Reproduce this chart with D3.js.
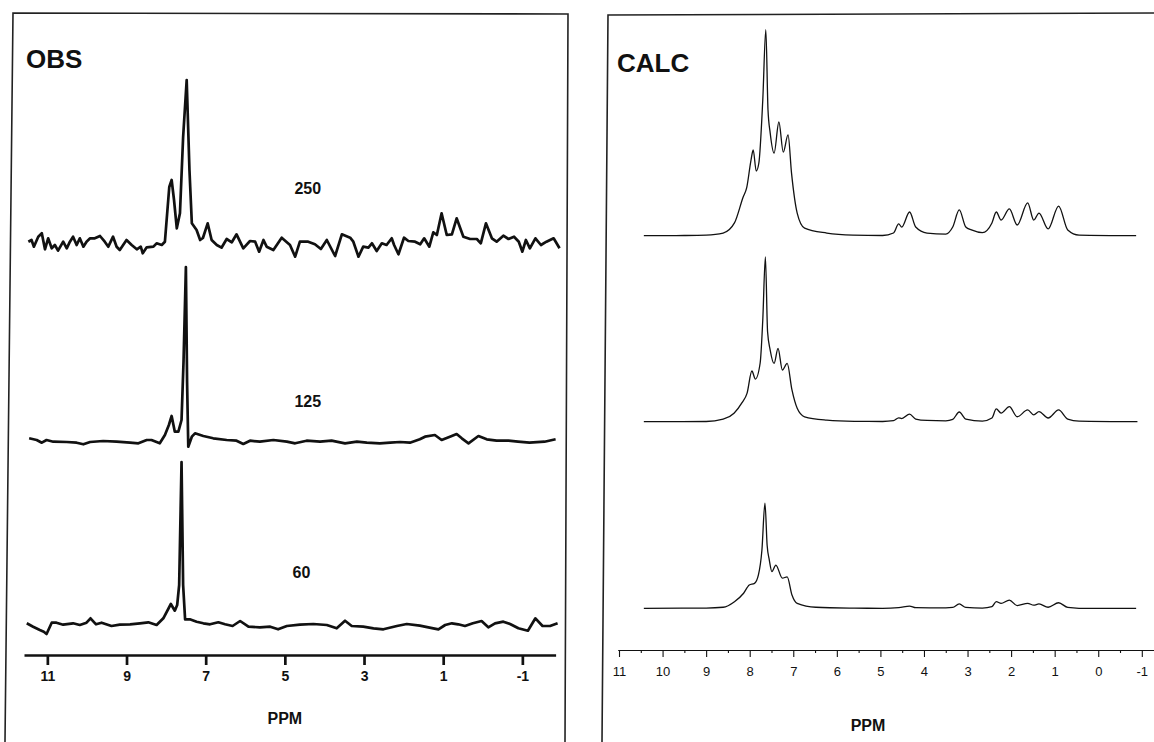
<!DOCTYPE html>
<html>
<head>
<meta charset="utf-8">
<script src="https://cdn.jsdelivr.net/npm/d3@7"></script>
<style>
  html, body { margin: 0; padding: 0; background: #fff; }
  svg { display: block; }
  text { font-family: "Liberation Sans", Arial, Helvetica, sans-serif; fill: #111; }
</style>
</head>
<body>
<svg id="chart" width="1154" height="742"></svg>
<script>
// --- data: [ppm, intensity] ---
const obs250 = [[11.48,1.3],[11.40,3],[11.34,-3.7],[11.23,6.3],[11.14,9.7],[11.06,-6.3],[10.98,4.7],[10.89,-5.3],
  [10.81,-2],[10.73,-7.7],[10.60,1.3],[10.51,-5.3],[10.43,1.3],[10.35,6.3],[10.26,-2],[10.18,4.7],[10.09,-3.7],
  [10.01,1.3],[9.92,4.7],[9.80,4.7],[9.67,7],[9.55,1.3],[9.46,-3.7],[9.34,6.3],[9.25,-3.7],[9.17,-7],[9.00,3],
  [8.87,-2],[8.74,-6.3],[8.64,-3.7],[8.59,-10.3],[8.49,-4.3],[8.32,-3.7],[8.24,-0.3],[8.11,-2],[8.03,1.3],
  [7.92,56],[7.86,63],[7.80,43],[7.73,14.7],[7.65,29.7],[7.57,106],[7.48,163],[7.41,73],[7.35,19.7],[7.23,13],
  [7.14,3],[7.07,5],[6.95,19.7],[6.85,3],[6.72,-2],[6.60,-4.7],[6.47,4],[6.34,0.7],[6.22,8.7],[6.05,-5.3],
  [5.88,2],[5.75,1.3],[5.65,-8.7],[5.54,3],[5.46,-3.7],[5.29,-7],[5.08,5.3],[4.87,-2],[4.74,-13.7],[4.62,1.3],
  [4.41,1.3],[4.24,-1.3],[4.09,-6],[3.94,3],[3.73,-13],[3.56,8.7],[3.35,5.3],[3.27,1.3],[3.14,-13.7],[3.02,-3.7],
  [2.89,-4.7],[2.80,-0.3],[2.68,-8],[2.55,-0.3],[2.43,-2],[2.30,4.7],[2.24,-2],[2.13,-11.3],[1.99,5.3],[1.88,2],
  [1.71,1.3],[1.58,-1.3],[1.48,4.7],[1.35,-3.7],[1.25,10.7],[1.16,8],[1.04,29.7],[0.91,8],[0.78,8.7],[0.66,24.7],
  [0.49,6.3],[0.32,4],[0.15,4],[0.05,-0.3],[-0.08,19.7],[-0.23,4.7],[-0.35,1.3],[-0.52,7.3],[-0.65,4],[-0.79,6.3],
  [-0.91,1.3],[-1.00,-8.7],[-1.09,3],[-1.19,-5.3],[-1.33,4.7],[-1.47,-2],[-1.61,1.3],[-1.79,4.7],[-1.94,-5.3]];

const obs125 = [[11.46,3.7],[11.27,2],[11.14,-0.7],[11.02,2],[10.85,0.3],[10.51,0],[10.26,-0.7],[10.09,-2.3],
  [9.92,0],[9.59,1],[9.25,0.3],[8.91,-0.7],[8.70,-1.3],[8.49,2],[8.37,2],[8.16,-1.3],[8.03,7],[7.93,17],[7.86,26],
  [7.78,10.3],[7.69,10.3],[7.61,22],[7.56,80],[7.50,175],[7.47,60],[7.44,-4.7],[7.35,5.3],[7.27,8.7],[7.06,6],
  [6.81,3.7],[6.47,2],[6.22,1.3],[6.05,-2],[5.88,1.3],[5.63,0.3],[5.29,2],[4.95,0.3],[4.74,-1.3],[4.45,1.3],
  [4.11,0.3],[3.82,1.3],[3.48,-1.3],[3.18,0.3],[2.93,-0.7],[2.60,-1.3],[2.34,-0.7],[2.09,0],[1.84,-0.7],
  [1.59,2.7],[1.46,5.3],[1.21,7],[1.04,2],[0.83,5.3],[0.66,8],[0.53,3.7],[0.36,-1.3],[0.11,6],[-0.10,2.7],
  [-0.35,1.3],[-0.65,1.3],[-0.89,0.3],[-1.18,-0.7],[-1.56,0.3],[-1.84,2.7]];

const obs60 = [[11.52,1.7],[11.36,-1.7],[11.19,-5],[11.09,-6.7],[11.02,-9],[10.89,2.3],[10.77,2.3],[10.60,0.3],
  [10.35,1.7],[10.18,0],[10.01,2.3],[9.91,6.7],[9.77,0.7],[9.63,2.3],[9.38,-1],[9.17,0.3],[8.91,0.7],[8.66,1.7],
  [8.45,2.7],[8.24,0],[8.07,6.7],[7.88,21],[7.78,14.3],[7.72,20],[7.67,40],[7.61,163],[7.57,40],[7.52,5.7],
  [7.40,5.7],[7.23,3.3],[7.06,1.7],[6.89,0.7],[6.68,2.7],[6.51,0.7],[6.32,-1],[6.13,4],[5.92,-1.7],[5.63,-2.3],
  [5.37,-1.7],[5.17,-4.3],[4.95,-1],[4.62,0.3],[4.28,1],[3.94,0],[3.69,-3.3],[3.48,4.3],[3.31,-1],[3.02,-1.7],
  [2.76,-3.3],[2.51,-4.3],[2.17,-1],[1.92,1],[1.59,-0.7],[1.25,-3.3],[1.12,-4.3],[0.95,0],[0.78,1.7],[0.62,0.7],
  [0.45,-1],[0.25,1.7],[0.03,4],[-0.14,-2.3],[-0.31,1.7],[-0.52,3.3],[-0.69,1],[-0.90,-3.3],[-1.14,-5.7],
  [-1.33,6.7],[-1.51,-1],[-1.70,-1],[-1.89,1.7]];

const calcA = [[10.43,0],[9.5,0.1],[9.0,0.3],[8.61,1.3],[8.35,6.2],[8.15,18.8],[8.07,23.2],[7.97,36.7],[7.92,41.6],
  [7.85,31.4],[7.79,35.3],[7.70,65.9],[7.63,100],[7.58,61],[7.53,49.9],[7.44,40.1],[7.33,55.2],[7.23,40.6],
  [7.12,48.9],[7.04,30.4],[6.91,11],[6.74,3.7],[6.23,1.3],[5.63,0.3],[4.95,0.1],[4.70,1.3],[4.58,5.7],[4.51,4.2],
  [4.33,11.5],[4.19,4.2],[3.93,1.3],[3.5,0.8],[3.34,4.2],[3.19,12.5],[3.04,4.2],[2.91,2.8],[2.66,1.5],[2.44,6.2],
  [2.34,11.5],[2.23,7.6],[2.04,13],[1.86,5.2],[1.62,15.9],[1.48,7.6],[1.36,11],[1.15,3.3],[0.91,14.4],[0.70,2.8],
  [0.44,0.3],[-0.87,0]];

const calcB = [[10.43,0],[9.0,0.1],[8.61,1.2],[8.36,4.1],[8.18,9.1],[8.06,13.9],[7.95,24.6],[7.87,20.7],[7.76,28.5],
  [7.70,49.4],[7.64,80],[7.59,43.7],[7.53,34.8],[7.44,28.3],[7.35,35.6],[7.25,25.1],[7.14,28.3],[7.03,15.4],
  [6.91,6.5],[6.74,2.4],[6.23,0.8],[5.6,0.2],[4.95,0.1],[4.70,0.5],[4.58,1.9],[4.51,1.5],[4.33,3.7],[4.19,1.3],
  [3.93,0.6],[3.5,0.4],[3.34,1.1],[3.19,4.7],[3.04,1.3],[2.66,0.3],[2.44,1.8],[2.34,6.2],[2.23,4.2],[2.04,7.3],
  [1.86,2.4],[1.62,5.7],[1.48,3.3],[1.36,4.9],[1.15,1.8],[0.91,5.7],[0.70,1.3],[0.44,0.3],[-0.9,0]];

const calcC = [[10.43,0],[9.0,0.1],[8.61,0.5],[8.35,3.2],[8.14,7.3],[8.01,11.3],[7.89,12.1],[7.80,16.2],[7.72,28.2],
  [7.65,51.1],[7.60,30.6],[7.55,23.4],[7.49,17.8],[7.40,21],[7.25,14.6],[7.14,15.3],[7.03,6.5],[6.91,2.4],
  [6.48,0.5],[5.6,0.1],[4.95,0],[4.58,0.3],[4.33,1.1],[4.19,0.3],[3.5,0.2],[3.34,0.4],[3.19,2.1],[3.04,0.4],
  [2.66,0.1],[2.44,0.8],[2.34,3.2],[2.23,2.4],[2.04,4.0],[1.86,1.3],[1.62,2.4],[1.48,1.5],[1.36,2.1],[1.15,0.5],
  [0.91,2.7],[0.70,0.4],[0.44,0],[-0.87,0]];

const obsLabels = ['250', '125', '60'];
const obsTicks = [11, 9, 7, 5, 3, 1, -1];
const calcTicks = [11, 10, 9, 8, 7, 6, 5, 4, 3, 2, 1, 0, -1];
const calcMinorTicks = [10.5, 9.5, 8.5, 7.5, 6.5, 5.5, 4.5, 3.5, 2.5, 1.5, 0.5, -0.5, -1.5];

// --- layout ---
const svg = d3.select('#chart');
const obsBase = [243, 442, 625];
const calcBase = [235.7, 421.7, 608.3];
const fontFam = '"Liberation Sans", Arial, Helvetica, sans-serif';

svg.append('rect').attr('width', 1154).attr('height', 742).attr('fill', '#fff');

// panel frames (scan is slightly skewed)
const frame = svg.append('g').attr('fill', 'none').attr('stroke', '#222').attr('stroke-width', 1.6);
frame.append('path').attr('d', 'M5,742 L13,13 L568,14 L565,742');
frame.append('path').attr('d', 'M602,742 L608,15 L1154,13');

// --- scales ---
const xObs = d3.scaleLinear().domain([11.59, -1.84]).range([24, 555.6]);
const xCalc = d3.scaleLinear().domain([11.03, -1.28]).range([617.7, 1154]);

const obsY = obsBase.map(b => d3.scaleLinear().domain([0, 160]).range([b, b - 160]));
const calcY = calcBase.map(b => d3.scaleLinear().domain([0, 100]).range([b, b - 206]));

// --- OBS traces ---
const obsG = svg.append('g');
[obs250, obs125, obs60].forEach((data, i) => {
  const line = d3.line().x(d => xObs(d[0])).y(d => obsY[i](d[1]));
  obsG.append('path').datum(data)
    .attr('d', line)
    .attr('fill', 'none').attr('stroke', '#111')
    .attr('stroke-width', 2.7).attr('stroke-linejoin', 'round');
});

// series labels
const labelPos = [[4.42, 194], [4.42, 407], [4.58, 578]];
obsLabels.forEach((t, i) => {
  svg.append('text')
    .attr('x', xObs(labelPos[i][0])).attr('y', labelPos[i][1])
    .attr('text-anchor', 'middle')
    .attr('font-size', 16).attr('font-weight', 'bold')
    .text(t);
});

// --- CALC traces ---
const calcG = svg.append('g');
[calcA, calcB, calcC].forEach((data, i) => {
  const line = d3.line().x(d => xCalc(d[0])).y(d => calcY[i](d[1])).curve(d3.curveMonotoneX);
  calcG.append('path').datum(data)
    .attr('d', line)
    .attr('fill', 'none').attr('stroke', '#111')
    .attr('stroke-width', 1.3);
});

// --- axes ---
const axObs = svg.append('g').attr('transform', 'translate(0,655)')
  .call(d3.axisBottom(xObs).tickValues(obsTicks).tickSize(10).tickSizeOuter(0)
    .tickPadding(6).tickFormat(d => String(d)));
axObs.attr('font-size', null).attr('font-family', null);
axObs.selectAll('path, line').attr('stroke', '#111').attr('stroke-width', 2.7);
axObs.selectAll('text').style('font-size', '14px').style('font-weight', 'bold')
  .style('font-family', fontFam).attr('fill', '#111');

const axCalc = svg.append('g').attr('transform', 'translate(0,650)')
  .call(d3.axisBottom(xCalc).tickValues(calcTicks).tickSize(7).tickSizeOuter(0)
    .tickPadding(10).tickFormat(d => String(d)));
axCalc.attr('font-size', null).attr('font-family', null);
axCalc.selectAll('path, line').attr('stroke', '#111').attr('stroke-width', 1.1);
axCalc.selectAll('text').style('font-size', '13px')
  .style('font-family', fontFam).attr('fill', '#111');

const axCalcMinor = svg.append('g').attr('transform', 'translate(0,650)')
  .call(d3.axisBottom(xCalc).tickValues(calcMinorTicks).tickSize(3).tickSizeOuter(0).tickFormat(''));
axCalcMinor.select('.domain').remove();
axCalcMinor.selectAll('line').attr('stroke', '#111').attr('stroke-width', 1.1);

// --- titles ---
svg.append('text').attr('x', 26).attr('y', 68)
  .attr('font-size', 26).attr('font-weight', 'bold').text('OBS');
svg.append('text').attr('x', 617).attr('y', 72)
  .attr('font-size', 26).attr('font-weight', 'bold').text('CALC');

svg.append('text').attr('x', xObs(5)).attr('y', 724)
  .attr('text-anchor', 'middle').attr('font-size', 16).attr('font-weight', 'bold').text('PPM');
svg.append('text').attr('x', 868).attr('y', 731)
  .attr('text-anchor', 'middle').attr('font-size', 16).attr('font-weight', 'bold').text('PPM');
</script>
</body>
</html>
